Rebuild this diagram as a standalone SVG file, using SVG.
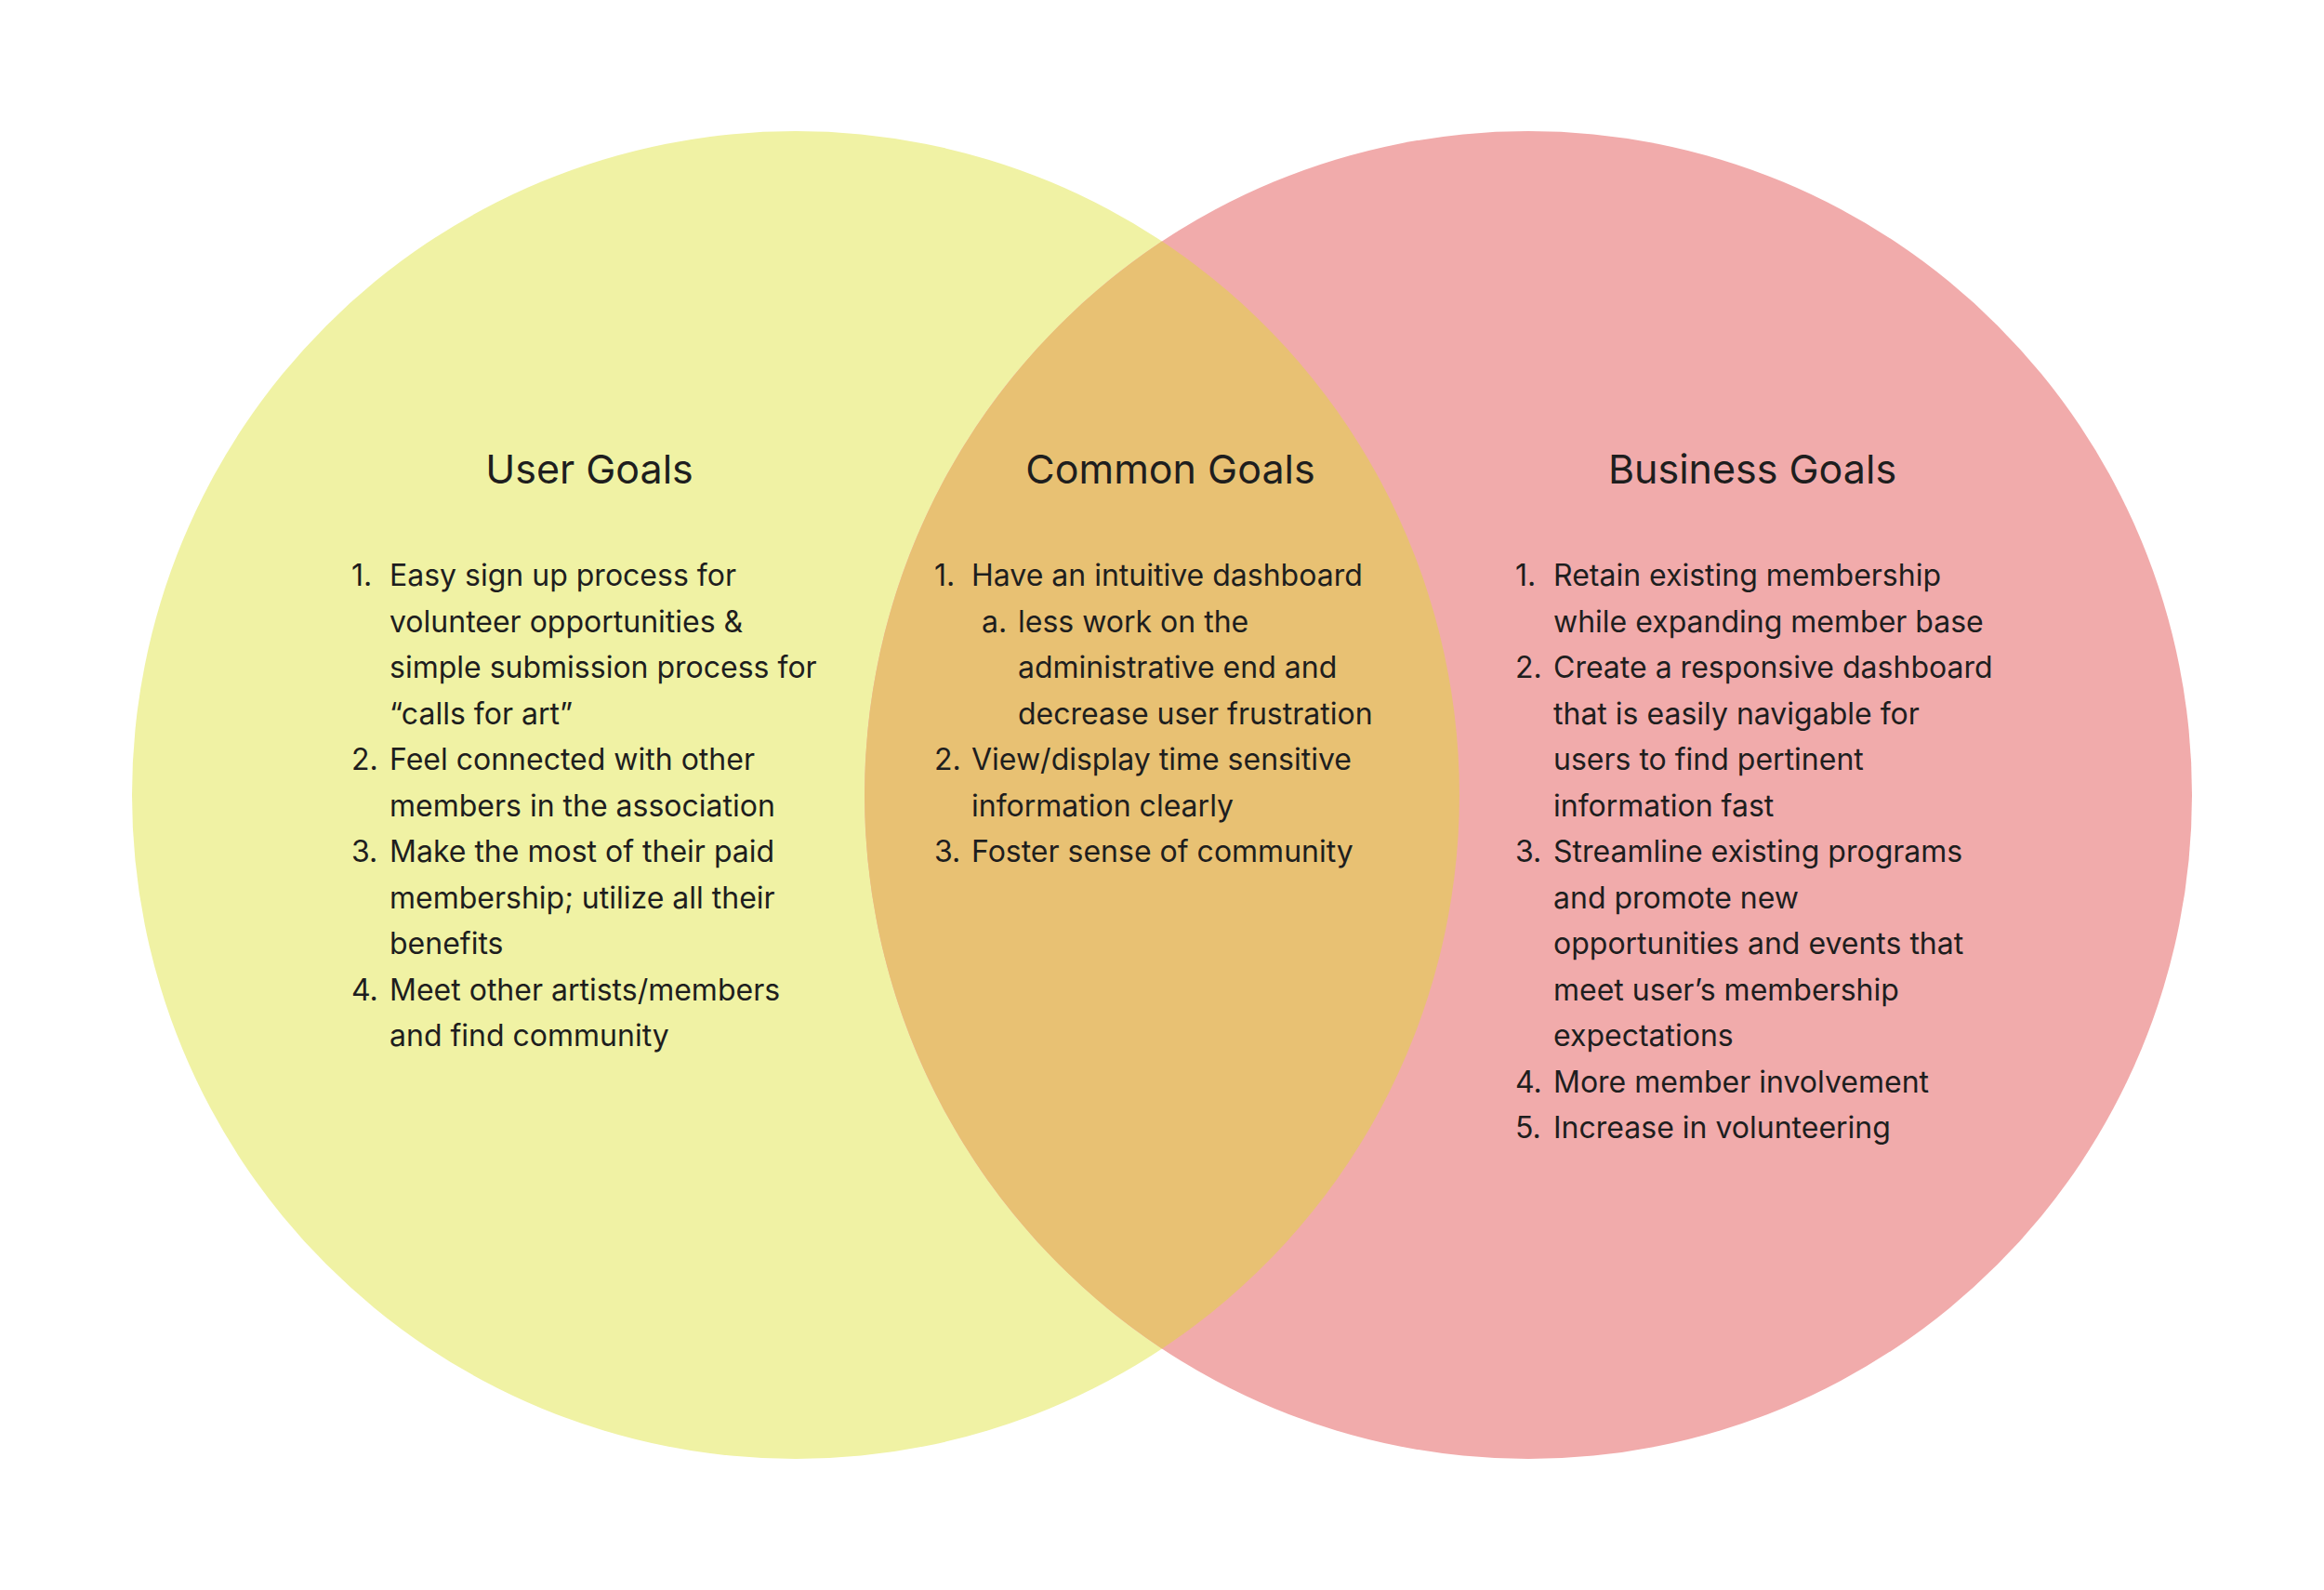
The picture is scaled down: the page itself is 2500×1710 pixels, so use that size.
<svg xmlns="http://www.w3.org/2000/svg" width="2500" height="1710" viewBox="0 0 2500 1710">
<style>
text{font-family:Inter,"Noto Sans","Liberation Sans",sans-serif;fill:#1e1e1e}
.t{font-size:43px;text-anchor:middle}
.b{font-size:32px}
</style>
<rect width="2500" height="1710" fill="#ffffff"/>
<g id="user-circle"><circle cx="856" cy="855" r="714" fill="#f0f2a4"/></g>
<g id="business-circle"><circle cx="1644" cy="855" r="714" fill="#f1abab"/></g>
<g id="common-overlap"><path d="M1250 259.6 A714 714 0 0 1 1250 1450.4 A714 714 0 0 1 1250 259.6 Z" fill="#e8c173"/></g>
<g id="connectors"></g>
<g id="user-goals">
<text class="t" x="634" y="520">User Goals</text>
<g class="b">
<text class="b" x="378" y="630">1.</text><text class="b" x="419" y="630">Easy sign up process for</text>
<text class="b" x="419" y="679.5">volunteer opportunities &amp;</text>
<text class="b" x="419" y="729">simple submission process for</text>
<text class="b" x="419" y="778.5">“calls for art”</text>
<text class="b" x="378" y="828">2.</text><text class="b" x="419" y="828">Feel connected with other</text>
<text class="b" x="419" y="877.5">members in the association</text>
<text class="b" x="378" y="927">3.</text><text class="b" x="419" y="927">Make the most of their paid</text>
<text class="b" x="419" y="976.5">membership; utilize all their</text>
<text class="b" x="419" y="1026">benefits</text>
<text class="b" x="378" y="1075.5">4.</text><text class="b" x="419" y="1075.5">Meet other artists/members</text>
<text class="b" x="419" y="1125">and find community</text>
</g>
</g>
<g id="common-goals">
<text class="t" x="1259" y="520">Common Goals</text>
<text class="b" x="1005" y="630">1.</text><text class="b" x="1045" y="630">Have an intuitive dashboard</text>
<text class="b" x="1056" y="679.5">a.</text><text class="b" x="1095" y="679.5">less work on the</text>
<text class="b" x="1095" y="729">administrative end and</text>
<text class="b" x="1095" y="778.5">decrease user frustration</text>
<text class="b" x="1005" y="828">2.</text><text class="b" x="1045" y="828">View/display time sensitive</text>
<text class="b" x="1045" y="877.5">information clearly</text>
<text class="b" x="1005" y="927">3.</text><text class="b" x="1045" y="927">Foster sense of community</text>
</g>
<g id="business-goals">
<text class="t" x="1885" y="520">Business Goals</text>
<text class="b" x="1630" y="630">1.</text><text class="b" x="1671" y="630">Retain existing membership</text>
<text class="b" x="1671" y="679.5">while expanding member base</text>
<text class="b" x="1630" y="729">2.</text><text class="b" x="1671" y="729">Create a responsive dashboard</text>
<text class="b" x="1671" y="778.5">that is easily navigable for</text>
<text class="b" x="1671" y="828">users to find pertinent</text>
<text class="b" x="1671" y="877.5">information fast</text>
<text class="b" x="1630" y="927">3.</text><text class="b" x="1671" y="927">Streamline existing programs</text>
<text class="b" x="1671" y="976.5">and promote new</text>
<text class="b" x="1671" y="1026">opportunities and events that</text>
<text class="b" x="1671" y="1075.5">meet user’s membership</text>
<text class="b" x="1671" y="1125">expectations</text>
<text class="b" x="1630" y="1174.5">4.</text><text class="b" x="1671" y="1174.5">More member involvement</text>
<text class="b" x="1630" y="1224">5.</text><text class="b" x="1671" y="1224">Increase in volunteering</text>
</g>
</svg>
